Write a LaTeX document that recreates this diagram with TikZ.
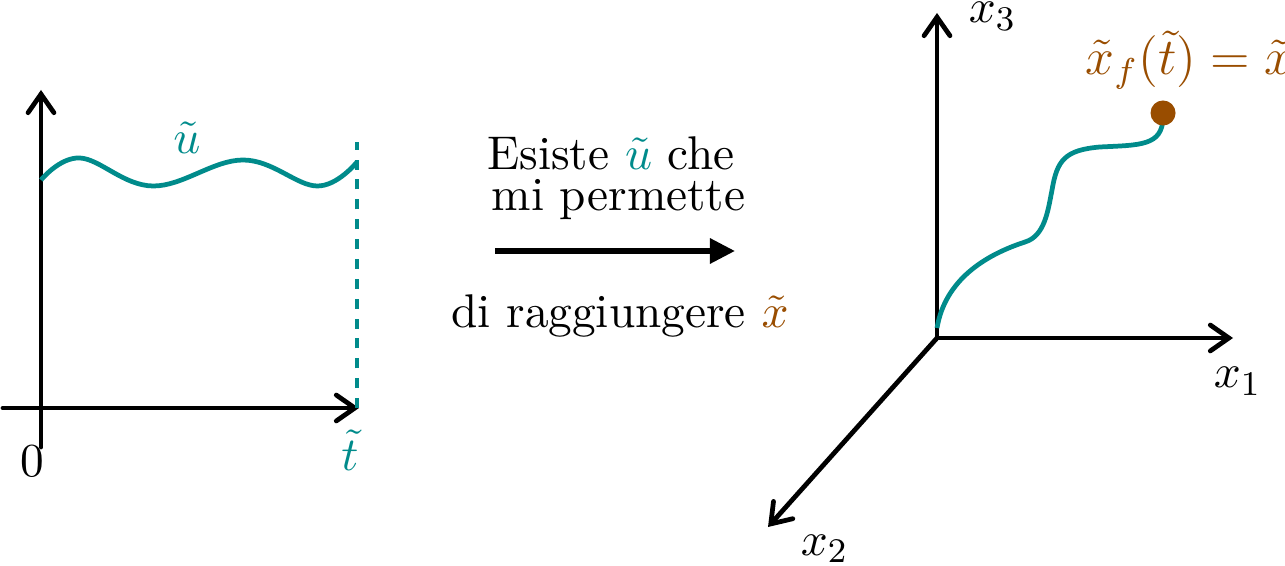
\documentclass[tikz,border=0pt]{standalone}
\usetikzlibrary{arrows.meta}
\definecolor{tealc}{RGB}{0,139,139}
\definecolor{brownc}{RGB}{153,77,0}
\begin{document}
\begin{tikzpicture}[x=0.2315pt,y=-0.2315pt,
  font=\fontsize{10.95}{13}\selectfont,
  axis/.style={line width=1.1pt,line cap=round,-{Straight Barb[length=4.3pt,width=6pt,line cap=round]}},
  curve/.style={tealc,line width=1.1pt},
  lbl/.style={inner sep=0pt,anchor=base},
  bigarrow/.style={line width=1.3pt,-{Triangle[length=5.8pt,width=5.6pt]}}]
\useasboundingbox (0,0) rectangle (1285,566);
% ---------- left plot ----------
\coordinate (Ybot) at (41,447);
\coordinate (Ytop) at (41,90);
\coordinate (Xl) at (3,408);
\coordinate (Xr) at (359,408);
\coordinate (Dtop) at (357,142);
\coordinate (Dbot) at (357,408);
\draw[axis] (Ybot) -- (Ytop);
\draw[axis] (Xl) -- (Xr);
\draw[tealc,line width=1.1pt,dash pattern=on 2.3pt off 2.3pt] (Dbot) -- (Dtop);
\draw[curve] plot[smooth,tension=0.65] coordinates {(41,180) (80,158) (153,186) (243,160) (317,186) (357,162)};
\node[lbl] (u) at (187,154) {\textcolor{tealc}{$\tilde u$}};
\node[lbl] (zero) at (32,477) {$0$};
\node[lbl] (tt) at (350,470) {\textcolor{tealc}{$\tilde t$}};
% ---------- middle ----------
\node[lbl] (l1) at (611,170) {Esiste \textcolor{tealc}{$\tilde u$} che};
\node[lbl] (l2) at (618.5,211) {mi permette};
\node[lbl] (l3) at (620,328) {di raggiungere \textcolor{brownc}{$\tilde x$}};
\coordinate (A1) at (495,251);
\coordinate (A2) at (735,251);
\draw[bigarrow] (A1) -- (A2);
% ---------- right plot ----------
\coordinate (O) at (937,338);
\coordinate (X1) at (1233,338);
\coordinate (X2) at (768,527);
\coordinate (X3) at (937,13);
\draw[axis] (O) -- (X1);
\draw[axis] (O) -- (X2);
\draw[axis] (O) -- (X3);
\node[inner sep=0pt,anchor=base west] (lx1) at (1213,388) {$x_1$};
\node[inner sep=0pt,anchor=base west] (lx2) at (800,555) {$x_2$};
\node[inner sep=0pt,anchor=base west] (lx3) at (968,23) {$x_3$};
\coordinate (C0) at (937,328);
\coordinate (C1) at (1025,242);
\coordinate (C2) at (1052,190);
\coordinate (C3) at (1100,147);
\coordinate (C4) at (1163,118);
\draw[curve] (C0) .. controls (945,280) and (985,255) .. (C1)
  .. controls (1045,236) and (1048,210) .. (C2)
  .. controls (1057,160) and (1065,150) .. (C3)
  .. controls (1140,145) and (1162,146) .. (C4);
\node[circle,fill=brownc,inner sep=0pt,minimum size=5.8pt] (dot) at (1163,113) {};
\node[inner sep=0pt,anchor=base west,text=brownc,font=\large] (xf) at (1085,75) {$\tilde x_f(\tilde t) = \tilde x$};
\end{tikzpicture}
\end{document}
